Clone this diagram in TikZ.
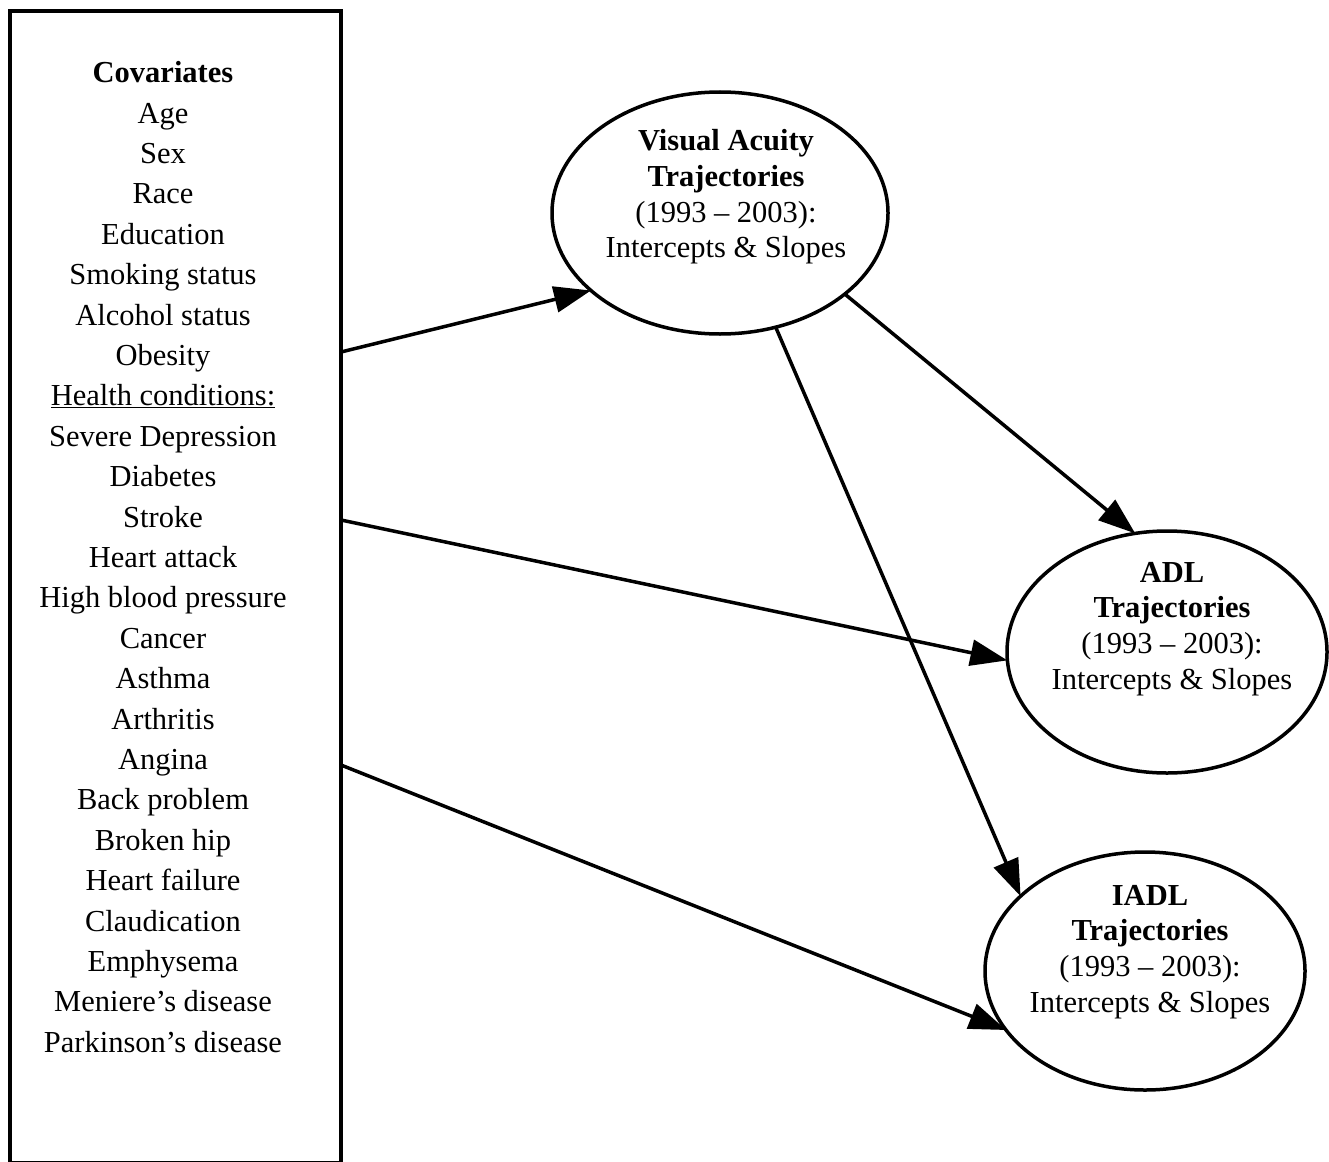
\documentclass[tikz,border=0pt]{standalone}
\usepackage{fontspec}
\setmainfont{Liberation Serif}
\usetikzlibrary{arrows.meta,shapes.geometric,calc}
\begin{document}
\begin{tikzpicture}[x=1pt,y=-1pt,
  thick line/.style={line width=3.5pt},
  arr/.style={thick line, -{Triangle[length=37pt,width=26pt]}},
  ell/.style={draw, ellipse, thick line, inner sep=0pt, outer sep=0pt},
  etext/.style={align=center, font=\fontsize{30.5}{35.7}\selectfont, inner sep=0pt},
  ]
\useasboundingbox (0,0) rectangle (1329,1161);
\node[draw, thick line, outer sep=0pt, inner sep=0pt, anchor=north west,
      minimum width=331pt, minimum height=1152pt] (box) at (10,11) {};
\node[align=center, font=\fontsize{30.5}{40.4}\selectfont, inner sep=0pt] (cov) at (163,557)
 {\textbf{Covariates}\\Age\\Sex\\Race\\Education\\Smoking status\\Alcohol status\\Obesity\\
  \underline{Health conditions:}\\Severe Depression\\Diabetes\\Stroke\\Heart attack\\
  High blood pressure\\Cancer\\Asthma\\Arthritis\\Angina\\Back problem\\Broken hip\\
  Heart failure\\Claudication\\Emphysema\\Meniere’s disease\\Parkinson’s disease};

\node[ell, minimum width=336pt, minimum height=242pt] (va) at (720,213) {};
\node[ell, minimum width=320pt, minimum height=242pt] (adl) at (1167,652) {};
\node[ell, minimum width=320pt, minimum height=238pt] (iadl) at (1145,971) {};

\node[etext] (vat) at (726,197) {\textbf{Visual Acuity}\\\textbf{Trajectories}\\(1993 – 2003):\\Intercepts \& Slopes};
\node[etext] (adlt) at (1172,629) {\textbf{ADL}\\\textbf{Trajectories}\\(1993 – 2003):\\Intercepts \& Slopes};
\node[etext] (iadlt) at (1150,952) {\textbf{IADL}\\\textbf{Trajectories}\\(1993 – 2003):\\Intercepts \& Slopes};

\coordinate (s1) at ($(box.north east)+(0,341)$);
\coordinate (s2) at ($(box.north east)+(0,509)$);
\coordinate (s3) at ($(box.north east)+(0,754)$);

\draw[arr] (s1) -- (va.211.9);
\draw[arr] (s2) -- (adl.183.6);
\draw[arr] (s3) -- (iadl.203.6);
\draw[arr] (va.-33) -- (adl.105.9);
\draw[arr] (va.-64) -- (iadl.149.7);
\end{tikzpicture}
\end{document}
